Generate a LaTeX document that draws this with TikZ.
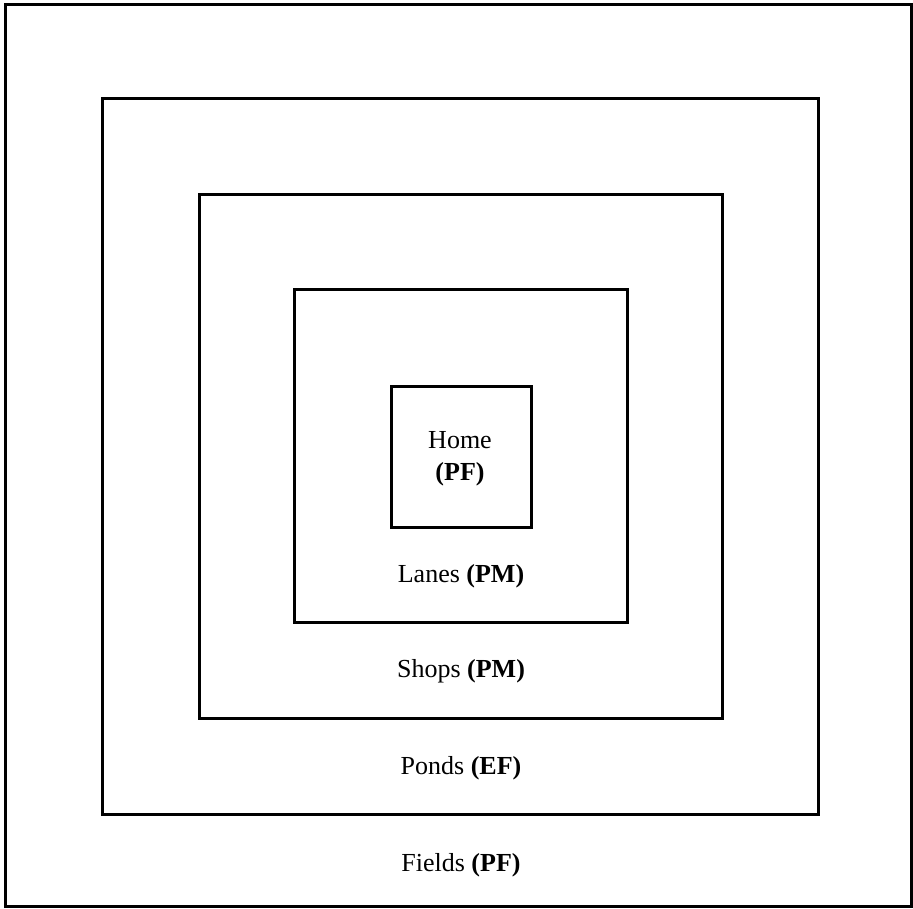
\documentclass[tikz,border=0pt]{standalone}
\usepackage{fontspec}
\setmainfont{Liberation Serif}
\begin{document}
\begin{tikzpicture}[x=1pt,y=-1pt,
  frame/.style={draw=black,line width=3pt},
  lbl/.style={font=\fontsize{26}{32}\selectfont,inner sep=0pt,align=center}]
\useasboundingbox (0,0) rectangle (913,909);
\draw[frame] (5,5) rectangle (911,906);
\draw[frame] (102,99) rectangle (818,814);
\draw[frame] (199,195) rectangle (722,718);
\draw[frame] (294,290) rectangle (627,622);
\draw[frame] (391,386) rectangle (531,527);
\node[lbl] (home) at (460,459) {Home\\\textbf{(PF)}};
\node[lbl] (lanes) at (461,576) {Lanes \textbf{(PM)}};
\node[lbl] (shops) at (461,671) {Shops \textbf{(PM)}};
\node[lbl] (ponds) at (461,768) {Ponds \textbf{(EF)}};
\node[lbl] (fields) at (461,865) {Fields \textbf{(PF)}};
\end{tikzpicture}
\end{document}
